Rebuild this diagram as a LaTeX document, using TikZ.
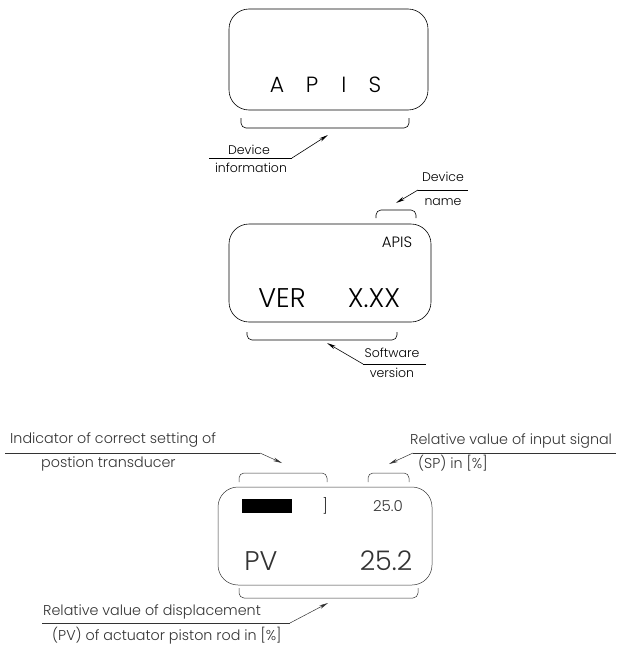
\documentclass[tikz,border=0pt]{standalone}
\usepackage{fontspec}
\setmainfont{Poppins Light}
\usetikzlibrary{arrows.meta}
\tikzset{
  disp/.style={draw, line width=0.6pt, rounded corners=20pt},
  brk/.style={draw, line width=0.6pt, rounded corners=5pt},
  lead/.style={draw, line width=0.6pt, -{Stealth[length=9pt,width=3.6pt]}},
  ul/.style={draw, line width=0.6pt},
  lbl/.style={inner sep=0pt, font=\fontsize{12.5}{14}\selectfont},
  lblb/.style={inner sep=0pt, anchor=west, font=\fontsize{14.3}{16}\selectfont},
  big/.style={inner sep=0pt, font=\fontsize{22}{24}\selectfont},
  huge/.style={inner sep=0pt, font=\fontsize{27}{30}\selectfont},
  small/.style={inner sep=0pt, font=\fontsize{15}{17}\selectfont},
  faint/.style={black!80},
}
\begin{document}
\begin{tikzpicture}[x=1pt,y=-1pt]
\useasboundingbox (0,0) rectangle (616,645);

% ---------- Box 1 ----------
\draw[disp] (229,9) rectangle (428,110);
\node[big] (a1) at (277,85) {A};
\node[big] (a2) at (312,85) {P};
\node[big] (a3) at (344,85) {I};
\node[big] (a4) at (375,85) {S};
\draw[brk] (241,118) -- (241,128) -- (409,128) -- (409,118);
\coordinate (b1) at (328,135);
\coordinate (u1a) at (209,158);
\coordinate (u1b) at (292,158);
\node[lbl] (dev1) at (249,150) {Device};
\node[lbl] (inf1) at (251,168) {information};
\draw[ul] (u1a) -- (u1b);
\draw[lead] (u1b) -- (b1);

% ---------- Box 2 ----------
\node[lbl] (dev2) at (443,177) {Device};
\node[lbl] (name2) at (443,202) {name};
\coordinate (u2a) at (418,190);
\coordinate (u2b) at (468,190);
\coordinate (b2) at (396,203);
\draw[ul] (u2a) -- (u2b);
\draw[lead] (u2a) -- (b2);
\draw[brk] (376,218) -- (376,210) -- (416,210) -- (416,218);

\draw[disp] (229,224) rectangle (431,322);
\node[small] (apis2) at (397,242) {APIS};
\node[huge] (ver) at (282,298) {VER};
\node[huge] (xxx) at (374,298) {X.XX};
\draw[brk] (247,332) -- (247,340) -- (397,340) -- (397,332);
\coordinate (b3) at (327,343);
\coordinate (u3a) at (363,364);
\coordinate (u3b) at (426,364);
\node[lbl] (sw) at (392,353) {Software};
\node[lbl] (vs) at (392,373) {version};
\draw[ul] (u3a) -- (u3b);
\draw[lead] (u3a) -- (b3);

% ---------- Box 3 ----------
\begin{scope}[faint]
\node[lblb] (ind) at (10,440) {Indicator of correct setting of};
\node[lblb] (pos) at (41,464) {postion transducer};
\coordinate (u4a) at (5,453);
\coordinate (u4b) at (260,453);
\coordinate (b4) at (282,463);
\draw[ul, line width=0.5pt] (u4a) -- (u4b);
\draw[lead, line width=0.5pt] (u4b) -- (b4);

\node[lblb] (rel) at (410,441) {Relative value of input signal};
\node[lblb] (sp) at (418,463) {(SP) in [\%]};
\coordinate (u5a) at (413,453);
\coordinate (u5b) at (616,453);
\coordinate (b5) at (389,464);
\draw[ul, line width=0.5pt] (u5a) -- (u5b);
\draw[lead, line width=0.5pt] (u5a) -- (b5);

\draw[brk, line width=0.5pt] (239,482) -- (239,473) -- (327,473) -- (327,482);
\draw[brk, line width=0.5pt] (368,482) -- (368,473) -- (409,473) -- (409,482);

\draw[disp, line width=0.5pt] (218,487) rectangle (432,585);
\fill[black] (242,499) rectangle (292,513);
\node[small] (rb) at (325,506) {]};
\node[small] (sp1) at (388,506) {25.0};
\node[huge] (pv) at (261,561) {PV};
\node[huge] (pv1) at (386,561) {25.2};

\draw[brk, line width=0.5pt] (239,588) -- (239,598) -- (418,598) -- (418,588);
\coordinate (b6) at (328,603);
\coordinate (u6a) at (42,623);
\coordinate (u6b) at (290,623);
\node[lblb] (rd) at (43,612) {Relative value of displacement};
\node[lblb] (pvr) at (52,636) {(PV) of actuator piston rod in [\%]};
\draw[ul, line width=0.5pt] (u6a) -- (u6b);
\draw[lead, line width=0.5pt] (u6b) -- (b6);
\end{scope}
\end{tikzpicture}
\end{document}
